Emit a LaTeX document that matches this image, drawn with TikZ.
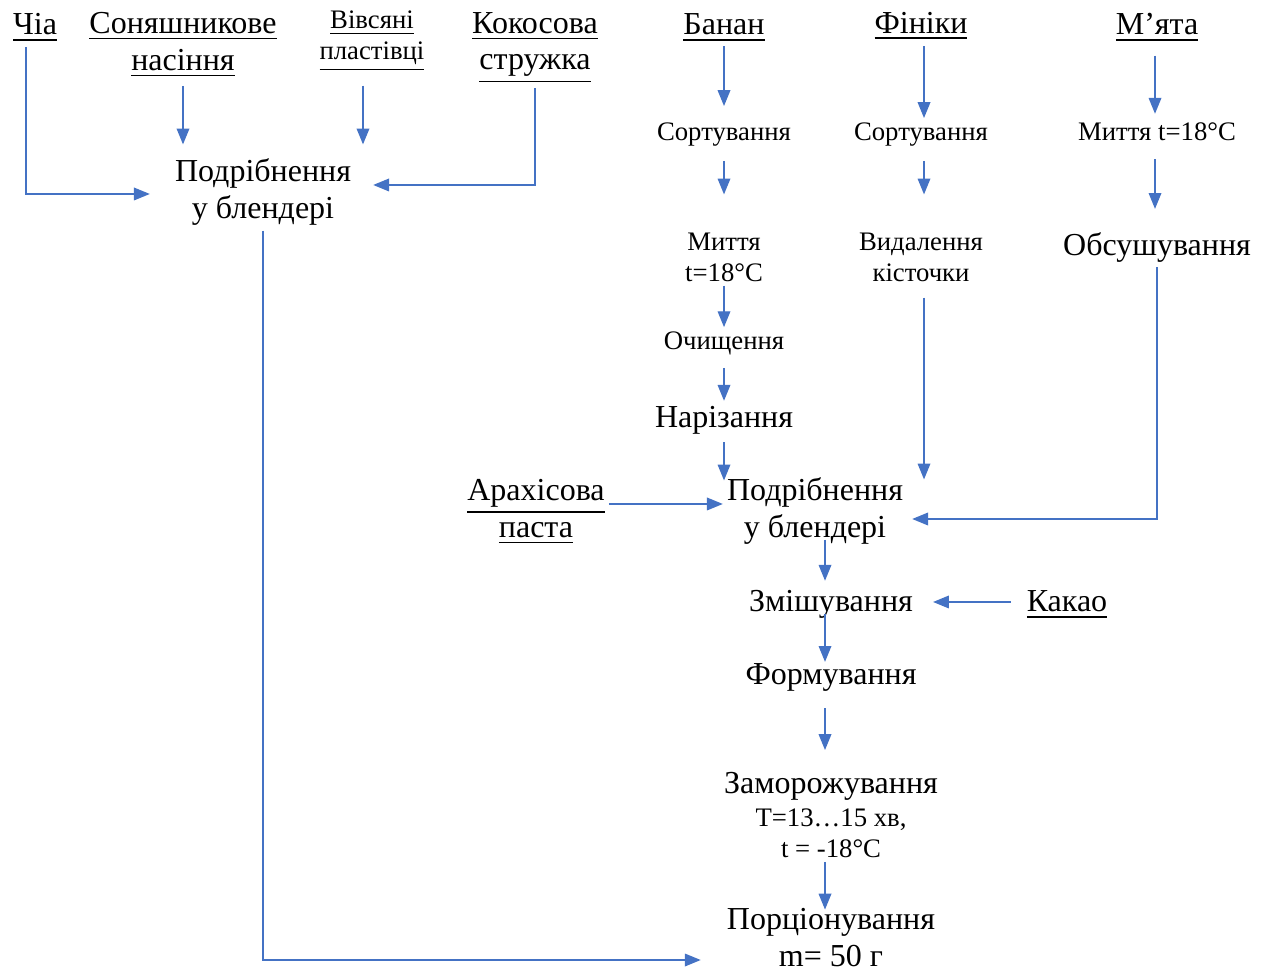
\documentclass[tikz,border=0pt]{standalone}
\usepackage{fontspec}
\setmainfont{Liberation Serif}
\usetikzlibrary{arrows.meta}

\definecolor{flowblue}{RGB}{68,114,196}
\newcommand{\bigtext}{\fontsize{9.1pt}{10.5pt}\selectfont}
\newcommand{\smalltext}{\fontsize{7.6pt}{8.8pt}\selectfont}

\tikzset{
  big/.style={font=\bigtext, align=center, inner sep=1pt},
  small/.style={font=\smalltext, align=center, inner sep=1pt},
  flow/.style={draw=flowblue, line width=0.37pt,
    -{Triangle[length=4.5pt,width=3.6pt]}}
}

\begin{document}
\begin{tikzpicture}[x=0.01cm, y=-0.01cm]
        \useasboundingbox (0,0) rectangle (1270,971);

        % Raw materials, left group
        \node[big] (chia) at (35,28) {\underline{Чіа}};
        \node[big] (sun) at (183,45) {\underline{Соняшникове}\\\underline{насіння}};
        \node[small] (oat) at (372,41) {\underline{Вівсяні}\\\underline{пластівці}};
        \node[big] (coco) at (535,48) {\underline{Кокосова}\\\underline{стружка}};
        \node[big] (blend1) at (263,192) {Подрібнення\\у блендері};

        % Raw materials, right group
        \node[big] (banana) at (724,28) {\underline{Банан}};
        \node[big] (dates) at (921,26) {\underline{Фініки}};
        \node[big] (mint) at (1157,28) {\underline{М’ята}};

        % Banana line
        \node[small] (sort1) at (724,135) {Сортування};
        \node[small] (wash1) at (724,257) {Миття\\t=18°C};
        \node[small] (peel) at (724,343) {Очищення};
        \node[big] (cut) at (724,420) {Нарізання};

        % Dates line
        \node[small] (sort2) at (921,135) {Сортування};
        \node[small] (pit) at (921,257) {Видалення\\кісточки};

        % Mint line
        \node[small] (wash2) at (1157,132) {Миття t=18°C};
        \node[big] (dry) at (1157,248) {Обсушування};

        % Main line
        \node[big] (nut) at (536,512) {\underline{Арахісова}\\\underline{паста}};
        \node[big] (blend2) at (815,511) {Подрібнення\\у блендері};
        \node[big] (mix) at (831,604) {Змішування};
        \node[big] (cocoa) at (1067,605) {\underline{Какао}};
        \node[big] (form) at (831,677) {Формування};
        \node[big] (freeze) at (831,815) {Заморожування\\[-1.2pt]{\smalltext T=13…15 хв,}\\[-1.6pt]{\smalltext t = -18°C}};
        \node[big] (portion) at (831,938) {Порціонування\\m= 50 г};

        % Left group arrows
        \draw[flow, shorten <=0.01cm, shorten >=0.21cm] ([xshift=-0.09cm]chia.south) |- ([yshift=-0.02cm]blend1.west);
        \draw[flow, shorten <=0.04cm, shorten >=0.1cm] (sun.south) -- (sun.south |- blend1.north);
        \draw[flow, shorten <=0.1cm, shorten >=0.1cm] ([xshift=-0.09cm]oat.south) -- ([xshift=-0.09cm]oat.south |- blend1.north);
        \draw[flow, shorten >=0.18cm] (coco.south) |- ([yshift=0.07cm]blend1.east);
        \draw[flow, shorten <=0.01cm, shorten >=0.22cm] (blend1.south) |- ([yshift=-0.22cm]portion.west);

        % Banana arrows
        \draw[flow, shorten >=0.13cm] (banana.south) -- (sort1.north);
        \draw[flow, shorten <=0.1cm, shorten >=0.34cm] (sort1.south) -- (wash1.north);
        \draw[flow] (wash1.south) -- (peel.north);
        \draw[flow, shorten <=0.09cm, shorten >=0.01cm] (peel.south) -- (cut.north);
        \draw[flow, shorten <=0.04cm, shorten >=-0.07cm] (cut.south) -- (cut.south |- blend2.north);

        % Dates arrows
        \draw[flow, shorten <=0.02cm, shorten >=0.01cm] ([xshift=0.03cm]dates.south) -- ([xshift=0.03cm]sort2.north);
        \draw[flow, shorten <=0.1cm, shorten >=0.34cm] ([xshift=0.03cm]sort2.south) -- ([xshift=0.03cm]pit.north);
        \draw[flow, shorten <=0.12cm, shorten >=-0.06cm] ([xshift=0.03cm]pit.south) -- ([xshift=0.03cm]pit.south |- blend2.north);

        % Mint arrows
        \draw[flow, shorten <=0.09cm, shorten >=0.05cm] ([xshift=-0.02cm]mint.south) -- ([xshift=-0.02cm]wash2.north);
        \draw[flow, shorten <=0.14cm, shorten >=0.2cm] ([xshift=-0.02cm]wash2.south) -- ([xshift=-0.02cm]dry.north);
        \draw[flow, shorten >=0.05cm] (dry.south) |- ([yshift=-0.08cm]blend2.east);

        % Main line arrows
        \draw[flow] ([yshift=0.08cm]nut.east) -- ([yshift=0.08cm]nut.east -| blend2.west);
        \draw[flow, shorten <=-0.09cm, shorten >=0.05cm] ([xshift=0.1cm]blend2.south) -- ([xshift=0.1cm]blend2.south |- mix.north);
        \draw[flow, shorten <=0.12cm, shorten >=0.16cm] ([yshift=0.03cm]cocoa.west) -- ([yshift=0.03cm]cocoa.west -| mix.east);
        \draw[flow, shorten <=-0.08cm, shorten >=-0.03cm] ([xshift=-0.06cm]mix.south) -- ([xshift=-0.06cm]form.north);
        \draw[flow, shorten <=0.13cm, shorten >=0.18cm] ([xshift=-0.06cm]form.south) -- ([xshift=-0.06cm]form.south |- freeze.north);
        \draw[flow, shorten >=-0.05cm] ([xshift=-0.06cm]freeze.south) -- ([xshift=-0.06cm]portion.north);
    \end{tikzpicture}
\end{document}
